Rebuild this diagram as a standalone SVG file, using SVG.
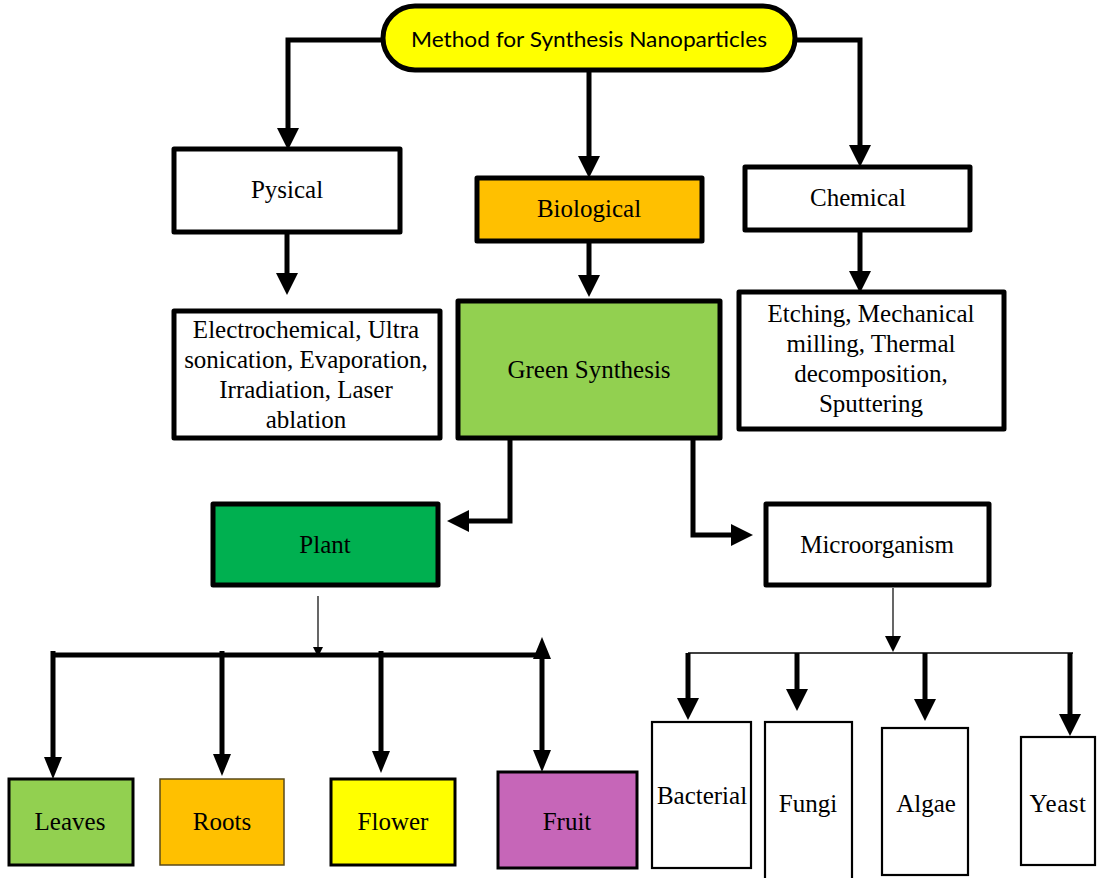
<svg xmlns="http://www.w3.org/2000/svg" width="1097" height="878" viewBox="0 0 1097 878">
<style>
.box{stroke:#000;stroke-width:5;stroke-linejoin:round}
.box3{stroke:#000;stroke-width:3}
.box2{stroke:#000;stroke-width:2.2}
.t{font-family:"Liberation Serif","Times New Roman",serif;font-size:25px;fill:#000;text-anchor:middle;dominant-baseline:central}
.c{fill:none;stroke:#000;stroke-width:5;stroke-linejoin:miter}
.thin{fill:none;stroke:#000;stroke-width:1.2}
</style>
<defs>
<marker id="big" viewBox="0 0 22 22" markerWidth="22" markerHeight="22" refX="8" refY="11" orient="auto-start-reverse" markerUnits="userSpaceOnUse"><path d="M0,0 L22,11 L0,22 z" fill="#000"/></marker>
<marker id="med" viewBox="0 0 22 18" markerWidth="22" markerHeight="18" refX="8" refY="9" orient="auto-start-reverse" markerUnits="userSpaceOnUse"><path d="M0,0 L22,9 L0,18 z" fill="#000"/></marker>
<marker id="small" viewBox="0 0 10 10" markerWidth="10" markerHeight="10" refX="4" refY="5" orient="auto" markerUnits="userSpaceOnUse"><path d="M0,0 L10,5 L0,10 z" fill="#000"/></marker>
<marker id="mid" viewBox="0 0 16 16" markerWidth="16" markerHeight="16" refX="4" refY="8" orient="auto" markerUnits="userSpaceOnUse"><path d="M0,0 L16,8 L0,16 z" fill="#000"/></marker>
</defs>

<g id="connectors">
<path class="c" d="M383,40 H288 V136" marker-end="url(#big)"/>
<path class="c" d="M589,70 V164" marker-end="url(#big)"/>
<path class="c" d="M795,40 H860 V153" marker-end="url(#big)"/>
<path class="c" d="M287,232 V281" marker-end="url(#big)"/>
<path class="c" d="M589,241 V283" marker-end="url(#big)"/>
<path class="c" d="M860,230 V279" marker-end="url(#big)"/>
<path class="c" d="M510,438 V521 H461" marker-end="url(#big)"/>
<path class="c" d="M693,438 V535 H739" marker-end="url(#big)"/>
<path class="thin" d="M318,596 V651" marker-end="url(#small)"/>
<path class="c" d="M53,655 H545"/>
<path class="c" d="M53,651 V765" marker-end="url(#med)"/>
<path class="c" d="M222,651 V762" marker-end="url(#med)"/>
<path class="c" d="M381,651 V759" marker-end="url(#med)"/>
<path class="c" d="M542,651 V758" marker-start="url(#med)" marker-end="url(#med)"/>
<path class="thin" d="M893,588 V640" marker-end="url(#mid)"/>
<path fill="none" stroke="#000" stroke-width="1.5" d="M688,653 H1073"/>
<path class="c" d="M688,653 V706" marker-end="url(#big)"/>
<path class="c" d="M797,653 V697" marker-end="url(#big)"/>
<path class="c" d="M925,653 V707" marker-end="url(#big)"/>
<path class="c" d="M1070,653 V722" marker-end="url(#big)"/>
</g>

<g id="n-method">
<rect x="383" y="6" width="412" height="64" rx="32" fill="#FFFF00" class="box"/>
<text x="589" y="38" font-family="Lato,'Liberation Sans',Arial,sans-serif" font-size="21" text-anchor="middle" dominant-baseline="central" textLength="356" lengthAdjust="spacingAndGlyphs">Method for Synthesis Nanoparticles</text>
</g>
<g id="n-pysical">
<rect x="174" y="149" width="226" height="83" fill="#fff" class="box"/>
<text class="t" x="287" y="189">Pysical</text>
</g>
<g id="n-biological">
<rect x="477" y="178" width="225" height="63" fill="#FFC000" class="box"/>
<text class="t" x="589" y="208">Biological</text>
</g>
<g id="n-chemical">
<rect x="745" y="167" width="225" height="63" fill="#fff" class="box"/>
<text class="t" x="858" y="197">Chemical</text>
</g>
<g id="n-physical-methods">
<rect x="174" y="311" width="266" height="127" fill="#fff" class="box"/>
<text class="t" x="306" y="329">Electrochemical, Ultra</text>
<text class="t" x="306" y="359">sonication, Evaporation,</text>
<text class="t" x="306" y="389">Irradiation, Laser</text>
<text class="t" x="306" y="419">ablation</text>
</g>
<g id="n-green">
<rect x="458" y="301" width="262" height="137" fill="#92D050" class="box"/>
<text class="t" x="589" y="369">Green Synthesis</text>
</g>
<g id="n-chemical-methods">
<rect x="739" y="292" width="265" height="137" fill="#fff" class="box"/>
<text class="t" x="871" y="313">Etching, Mechanical</text>
<text class="t" x="871" y="343">milling, Thermal</text>
<text class="t" x="871" y="373">decomposition,</text>
<text class="t" x="871" y="403">Sputtering</text>
</g>
<g id="n-plant">
<rect x="213" y="504" width="225" height="81" fill="#00B050" class="box"/>
<text class="t" x="325" y="544">Plant</text>
</g>
<g id="n-micro">
<rect x="766" y="504" width="223" height="81" fill="#fff" class="box"/>
<text class="t" x="877" y="544">Microorganism</text>
</g>
<g id="n-leaves">
<rect x="9" y="779" width="124" height="86" fill="#92D050" class="box3"/>
<text class="t" x="70" y="821" font-size="26">Leaves</text>
</g>
<g id="n-roots">
<rect x="160" y="779" width="124" height="86" fill="#FFC000" stroke="#5a4a1a" stroke-width="1.5"/>
<text class="t" x="222" y="821" font-size="26">Roots</text>
</g>
<g id="n-flower">
<rect x="331" y="779" width="124" height="86" fill="#FFFF00" class="box3"/>
<text class="t" x="393" y="821" font-size="26">Flower</text>
</g>
<g id="n-fruit">
<rect x="498" y="772" width="139" height="96" fill="#C666B8" class="box3"/>
<text class="t" x="567" y="821" font-size="26">Fruit</text>
</g>
<g id="n-bacterial">
<rect x="652" y="722" width="99" height="146" fill="#fff" class="box2"/>
<text class="t" x="702" y="795" font-size="26">Bacterial</text>
</g>
<g id="n-fungi">
<rect x="765" y="722" width="87" height="160" fill="#fff" class="box2"/>
<text class="t" x="808" y="803" font-size="18">Fungi</text>
</g>
<g id="n-algae">
<rect x="882" y="728" width="86" height="147" fill="#fff" class="box2"/>
<text class="t" x="926" y="803" font-size="26">Algae</text>
</g>
<g id="n-yeast">
<rect x="1021" y="737" width="74" height="128" fill="#fff" class="box2"/>
<text class="t" x="1058" y="803" font-size="18" letter-spacing="0.5">Yeast</text>
</g>
</svg>
